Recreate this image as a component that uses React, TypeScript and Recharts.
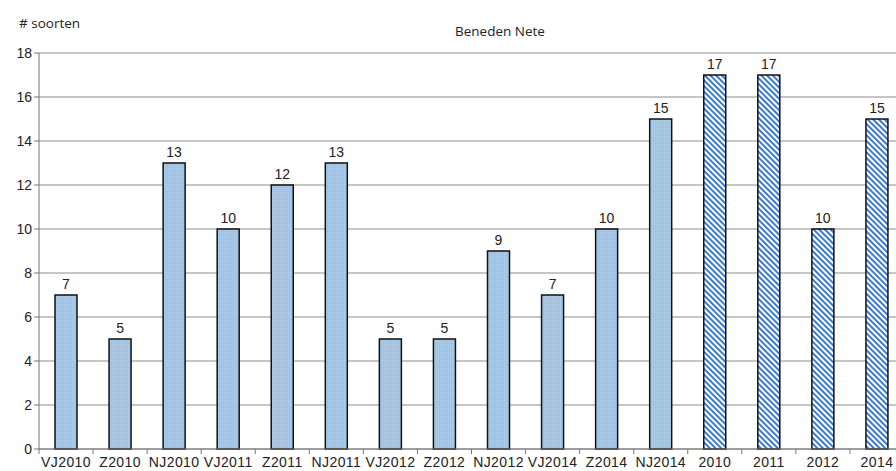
import React from "react";
import { BarChart, Bar, XAxis, YAxis, CartesianGrid, Cell, LabelList } from "recharts";

const categories = ["VJ2010", "Z2010", "NJ2010", "VJ2011", "Z2011", "NJ2011", "VJ2012", "Z2012", "NJ2012", "VJ2014", "Z2014", "NJ2014", "2010", "2011", "2012", "2014"];
const soorten = [7, 5, 13, 10, 12, 13, 5, 5, 9, 7, 10, 15, 17, 17, 10, 15];
const yTicks = [0, 2, 4, 6, 8, 10, 12, 14, 16, 18];
const title = "Beneden Nete";
const yTitle = "# soorten";

const data = categories.map((c, i) => ({ name: c, value: soorten[i], annual: /^\d/.test(c) }));

const XTick = (props: any) => {
  const { x, y, payload } = props;
  const off = payload.offset || 0;
  return (
    <g>
      <line x1={x - off} x2={x - off} y1={y - 8} y2={y - 3} stroke="#777" strokeWidth={1} />
      <text x={x} y={y + 10} textAnchor="middle" fontSize={14} letterSpacing={0.4} fill="#222" fontFamily="Liberation Sans, Arial, sans-serif">
        {payload.value}
      </text>
    </g>
  );
};

export default function App() {
  return (
    <div style={{ position: "absolute", left: 0, top: 0, width: 910, height: 471, background: "#fff" }}>
      <div style={{ position: "absolute", left: 19, top: 14, fontFamily: "Open Sans, sans-serif", fontSize: 13.5, color: "#222", lineHeight: "18px" }}>{yTitle}</div>
      <div style={{ position: "absolute", left: 455, top: 22, fontFamily: "Open Sans, sans-serif", fontSize: 13.5, color: "#222", lineHeight: "18px" }}>{title}</div>
      <BarChart width={910} height={471} data={data} margin={{ top: 53, right: 6, bottom: 0, left: 0 }} barSize={22}>
        <defs>
          <pattern id="dots" width="2" height="2" patternUnits="userSpaceOnUse">
            <rect width="2" height="2" fill="#9cc2e6" />
            <rect width="1" height="1" fill="#b5d2ee" />
          </pattern>
          <pattern id="hatch" width="4" height="4" patternUnits="userSpaceOnUse" patternTransform="rotate(-45)">
            <rect width="4" height="4" fill="#ffffff" />
            <rect width="2" height="4" fill="#3a7bd0" />
          </pattern>
        </defs>
        <CartesianGrid vertical={false} stroke="#8c8c8c" strokeWidth={1} />
        <XAxis dataKey="name" interval={0} height={22} tickLine={false} axisLine={{ stroke: "#777" }} tick={<XTick />} />
        <YAxis
          domain={[0, 18]}
          ticks={yTicks}
          width={39}
          tickSize={5}
          tickLine={{ stroke: "#777" }}
          axisLine={{ stroke: "#777" }}
          tick={{ fontSize: 14, fill: "#222", fontFamily: "Liberation Sans, Arial, sans-serif" }}
        />
        <Bar dataKey="value" stroke="#111" strokeWidth={1.5} isAnimationActive={false}>
          {data.map((d, i) => (
            <Cell key={i} fill={d.annual ? "url(#hatch)" : "url(#dots)"} />
          ))}
          <LabelList dataKey="value" position="top" offset={6} fontSize={14} fill="#222" fontFamily="Liberation Sans, Arial, sans-serif" />
        </Bar>
      </BarChart>
    </div>
  );
}
